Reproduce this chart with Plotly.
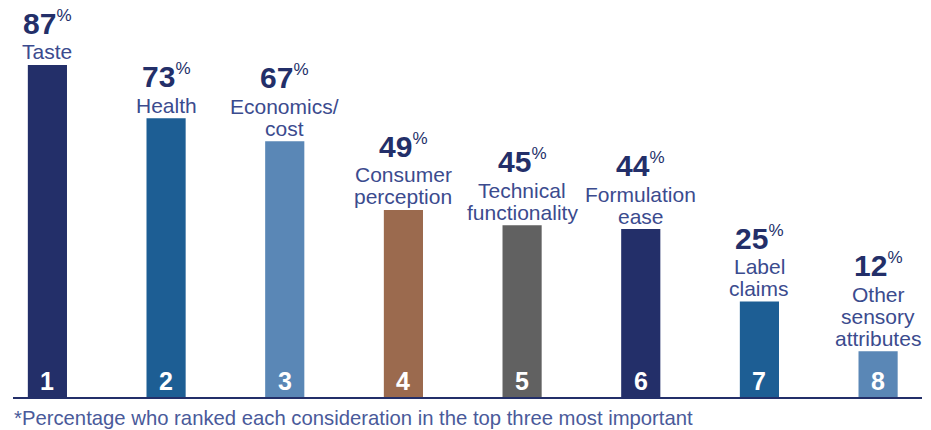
import plotly.graph_objects as go

# Survey results: share ranking each consideration in their top three
ranks = ["1", "2", "3", "4", "5", "6", "7", "8"]
categories = [
    "Taste",
    "Health",
    "Economics/\ncost",
    "Consumer\nperception",
    "Technical\nfunctionality",
    "Formulation\nease",
    "Label\nclaims",
    "Other\nsensory\nattributes",
]
values = [87, 73, 67, 49, 45, 44, 25, 12]
bar_colors = ["#232f69", "#1d5e94", "#5a87b6", "#9b6a4e",
              "#616161", "#232f69", "#1d5e94", "#5a87b6"]
footnote = "*Percentage who ranked each consideration in the top three most important"

FONT = "Liberation Sans, Arial, Helvetica, sans-serif"
NAVY = "#232f69"
LABEL_COLOR = "#3b4b8e"

fig = go.Figure(
    go.Bar(
        x=ranks,
        y=values,
        marker=dict(color=bar_colors, line=dict(width=0)),
        width=0.33,
        hoverinfo="skip",
    )
)

annotations = []
for i, (rank, cat, val) in enumerate(zip(ranks, categories, values)):
    lines = cat.split("\n")
    # category name, stacked upward from the top of the bar
    for k, line in enumerate(reversed(lines)):
        annotations.append(dict(
            x=i, y=val, xref="x", yref="y", text=line, showarrow=False,
            xanchor="center", yanchor="middle", yshift=13 + 22 * k,
            font=dict(family=FONT, size=21, color=LABEL_COLOR),
        ))
    # percentage above the name
    top_line = 6 + 22 * (len(lines) - 1)
    annotations.append(dict(
        x=i, y=val, xref="x", yref="y",
        text=f"<b>{val}</b><sup><span style='font-size:17px'>%</span></sup>",
        showarrow=False, xanchor="center", yanchor="middle",
        yshift=top_line + 26 + 10,
        font=dict(family=FONT, size=30, color=NAVY),
    ))
    # rank number inside the bar
    annotations.append(dict(
        x=i, y=0, xref="x", yref="y", text=f"<b>{rank}</b>",
        showarrow=False, xanchor="center", yanchor="middle", yshift=16,
        font=dict(family=FONT, size=25, color="#ffffff"),
    ))

annotations.append(dict(
    x=0, y=0, xref="paper", yref="paper", text=footnote, showarrow=False,
    xanchor="left", yanchor="middle", xshift=-1, yshift=-21,
    font=dict(family=FONT, size=20.3, color="#4a5a9a"),
))

fig.update_layout(
    width=931, height=430,
    margin=dict(l=13, r=9, t=0, b=33),
    paper_bgcolor="#ffffff", plot_bgcolor="#ffffff",
    showlegend=False,
    annotations=annotations,
    xaxis=dict(
        type="category", range=[-0.29, 7.37],
        showline=True, linecolor=NAVY, linewidth=2,
        showticklabels=False, ticks="", showgrid=False, zeroline=False,
        fixedrange=True,
    ),
    yaxis=dict(
        range=[0, 104], visible=False, showgrid=False, zeroline=False,
        fixedrange=True,
    ),
)

fig.write_html("out.html", config={"displayModeBar": False})
